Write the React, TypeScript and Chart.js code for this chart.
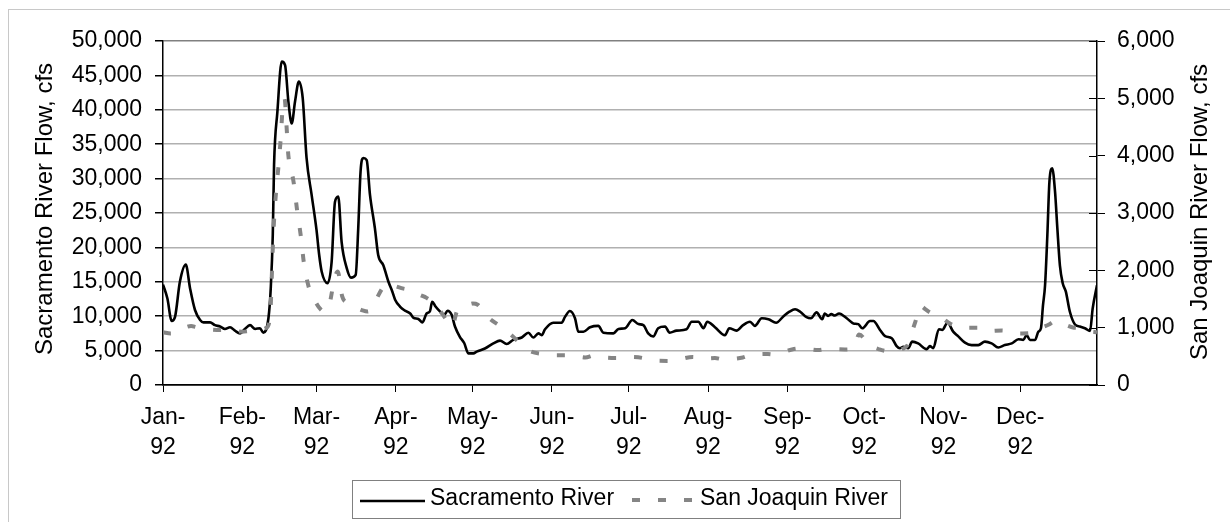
import { useEffect, useRef } from 'react';
import { Chart, registerables } from 'chart.js';

Chart.register(...registerables);

const W = 1230;
const H = 522;
const FONT = '"Liberation Sans", Arial, Helvetica, sans-serif';

// x axis: day of year 1992 (0 = Jan 1)
const monthStartDays = [0, 31, 60, 91, 121, 152, 182, 213, 244, 274, 305, 335];
const monthLabels = ['Jan-', 'Feb-', 'Mar-', 'Apr-', 'May-', 'Jun-', 'Jul-', 'Aug-', 'Sep-', 'Oct-', 'Nov-', 'Dec-'];
const yearLabel = '92';

const leftAxisTitle = 'Sacramento River Flow, cfs';
const rightAxisTitle = 'San Joaquin River Flow, cfs';
const seriesNames = ['Sacramento River', 'San Joaquin River'];

// Sacramento River (left axis, cfs)
const sacDay = [
  0, 1.7, 3.4, 4.7, 6.6, 8.9, 10.6, 12.5, 14.5, 15.8,
  18.4, 20.3, 22.3, 24.2, 26.2, 28.1, 30.1, 32, 34, 36,
  37.9, 39.2, 41.2, 42.1, 42.9, 43.4, 44.7, 46.4, 47.7, 49,
  50.3, 51.6, 53.1, 54.6, 56.1, 58.1, 60, 61, 62, 64.3,
  65.9, 67.2, 68.5, 69.8, 71.8, 73.5, 75.3, 76.3, 77.2, 78.3,
  79.6, 80.9, 82.8, 84.1, 86.1, 88.1, 89.6, 90.7, 92.6, 94.6,
  96.6, 97.8, 99.8, 101.4, 103, 104.3, 105.2, 106.5, 108.2, 109.9,
  111.2, 112.8, 114.1, 116, 117.7, 119.3, 121.3, 122.6, 125.8, 129.1,
  131.7, 134.3, 136.9, 140.2, 142.8, 144.7, 146.7, 148, 149.3, 152.5,
  155.8, 157.1, 159, 161, 162.3, 164.3, 166.9, 170.1, 172.1, 176,
  178, 180.6, 183.4, 185.8, 187.7, 189.6, 191.6, 193.5, 196.2, 198,
  200.7, 204.6, 206.6, 209.2, 211.2, 212.7, 215.7, 219.6, 221.3, 224.1,
  226.7, 229.4, 231.3, 234, 236.6, 239.6, 242.5, 244.8, 247, 249,
  251.5, 253.2, 255.4, 257.6, 258.6, 259.9, 261.2, 262.5, 264.2, 267.2,
  269.8, 271.7, 273.3, 276.3, 277.6, 280.2, 282.2, 284.8, 286.7, 288,
  289.3, 291.2, 292.8, 295.1, 298.4, 299.7, 301, 303.2, 304.5, 306.6,
  308.8, 310.7, 313.4, 316, 318.6, 321.2, 323.8, 326.4, 329, 331.7,
  334.3, 336.2, 337.5, 338.8, 340.8, 342.1, 343.1, 343.9, 344.7, 345.6,
  346.4, 347.5, 348.6, 349.5, 350.5, 351.6, 352.8, 354.4, 356.4, 358.3,
  360.3, 362.3, 363.3, 365,
];
const sacFlow = [
  14600, 12600, 9300, 9900, 15000, 17500, 14000, 10900, 9450, 9100,
  9100, 8700, 8500, 8150, 8400, 7900, 7500, 8150, 8700, 8150,
  8250, 7600, 9700, 14000, 21800, 32000, 39700, 47000, 46500, 41200,
  38000, 41200, 44100, 41700, 33000, 27600, 22500, 19000, 16500, 14800,
  17900, 26600, 27400, 20800, 17000, 15600, 16000, 22800, 31000, 33000,
  32700, 27600, 22800, 18900, 17400, 15000, 13600, 12400, 11400, 10800,
  10400, 9800, 9600, 9100, 10400, 10700, 12100, 11400, 10700, 10200,
  10800, 10200, 8500, 7000, 6100, 4600, 4600, 4850, 5300, 6050,
  6450, 5950, 6550, 6900, 7600, 6900, 7500, 7250, 8100, 9050,
  9050, 9900, 10750, 9700, 7750, 7750, 8400, 8600, 7600, 7500,
  8150, 8250, 9450, 8850, 8700, 7500, 7050, 8250, 8500, 7600,
  7900, 8100, 9200, 9200, 8250, 9200, 8400, 7250, 8250, 7900,
  8700, 9200, 8600, 9700, 9550, 9050, 10000, 10650, 11000, 10650,
  9850, 9700, 10550, 9550, 10400, 10050, 10300, 10100, 10400, 9700,
  8950, 8850, 8250, 9300, 9300, 8000, 7100, 6800, 5650, 5350,
  5550, 5350, 6300, 6050, 5200, 5650, 5350, 8100, 8000, 9050,
  7750, 7100, 6150, 5800, 5800, 6300, 6050, 5450, 5800, 6050,
  6650, 6550, 7250, 6550, 6550, 7750, 8250, 11600, 14500, 21800,
  29500, 31500, 28100, 22800, 17400, 14800, 13600, 10650, 8800, 8500,
  8250, 7850, 11100, 14500,
];

// San Joaquin River (right axis, cfs)
const sjDay = [
  0, 3, 11, 13, 21, 24, 31, 34, 40.5, 42,
  42.6, 43, 43.5, 44.3, 45.2, 46, 46.7, 47.5, 48.3, 49,
  51, 52.4, 54, 55, 57, 59, 61, 63, 65, 67,
  68.3, 70, 72, 75, 78, 80, 82, 84, 86, 88,
  91, 94, 97.5, 100, 103, 106, 109, 111, 113, 115,
  118, 121, 123, 125, 127.4, 131.7, 135.6, 140.3, 143, 148.5,
  152, 158.3, 161.8, 165, 168.8, 170.8, 177.8, 181.3, 187.6, 190.3,
  197.4, 200.9, 207.1, 210.6, 215.7, 218.8, 226.6, 229.4, 236.4, 239.2,
  245.8, 249.7, 256, 260, 266.5, 270, 272, 276, 280, 283,
  286, 289, 291, 292.5, 294, 296, 298, 300, 303, 306,
  308, 311.5, 315, 318.5, 322.5, 328, 332, 336, 339.6, 342.7,
  346, 349, 352, 356, 359, 362, 365,
];
const sjFlow = [
  920, 900, 1030, 1010, 960, 960, 930, 940, 1000, 1300,
  2000, 2500, 2950, 3430, 3850, 4300, 4800, 5000, 4500, 4000,
  3550, 3050, 2550, 2150, 1700, 1500, 1350, 1280, 1400, 1850,
  1980, 1550, 1430, 1360, 1300, 1280, 1350, 1550, 1700, 1760,
  1720, 1680, 1650, 1580, 1520, 1420, 1250, 1120, 1020, 1300,
  1360, 1420, 1400, 1300, 1170, 1030, 890, 700, 600, 540,
  520, 520, 500, 480, 520, 490, 470, 490, 470, 430,
  420, 440, 490, 460, 470, 450, 480, 520, 540, 530,
  620, 640, 610, 630, 620, 650, 880, 700, 620, 590,
  580, 630, 700, 900, 1100, 1380, 1320, 1260, 1230, 1120,
  1060, 1000, 1000, 1000, 940, 950, 900, 900, 910, 990,
  1050, 1120, 1060, 1000, 990, 940, 920,
];

const leftTicks = { min: 0, max: 50000, step: 5000 };
const rightTicks = { min: 0, max: 6000, step: 1000 };

const PLOT = { left: 163, right: 1097, top: 41, bottom: 385 };
const X_AXIS_HEIGHT = 90;

export default function App() {
  const ref = useRef<HTMLCanvasElement>(null);

  useEffect(() => {
    const canvas = ref.current;
    if (!canvas) return;

    const decor = {
      id: 'decor',
      beforeDraw(chart: any) {
        const ctx = chart.ctx;
        ctx.save();
        ctx.fillStyle = '#ffffff';
        ctx.fillRect(0, 0, W, H);
        ctx.strokeStyle = '#c8c8c8';
        ctx.lineWidth = 1;
        ctx.strokeRect(8.5, 9.5, W + 40, H + 40);
        ctx.restore();
      },
      afterDraw(chart: any) {
        const { ctx, chartArea } = chart;
        const y1 = chart.scales.y1;
        ctx.save();
        // inner half of the right-axis cross tick marks
        ctx.strokeStyle = '#000';
        ctx.lineWidth = 1;
        y1.ticks.forEach((t: any) => {
          const py = Math.round(y1.getPixelForValue(t.value)) + 0.5;
          ctx.beginPath();
          ctx.moveTo(chartArea.right - 8, py);
          ctx.lineTo(chartArea.right, py);
          ctx.stroke();
        });

        // axis titles (both read bottom-to-top)
        ctx.fillStyle = '#000';
        ctx.font = `24px ${FONT}`;
        ctx.textAlign = 'center';
        ctx.textBaseline = 'middle';
        ctx.save();
        ctx.translate(45, 209);
        ctx.rotate(-Math.PI / 2);
        ctx.fillText(leftAxisTitle, 0, 0);
        ctx.restore();
        ctx.save();
        ctx.translate(1200, 212);
        ctx.rotate(-Math.PI / 2);
        ctx.fillText(rightAxisTitle, 0, 0);
        ctx.restore();

        // legend
        ctx.strokeStyle = '#808080';
        ctx.lineWidth = 1;
        ctx.strokeRect(352.5, 480.5, 548, 38);
        ctx.strokeStyle = '#000';
        ctx.lineWidth = 2.5;
        ctx.beginPath();
        ctx.moveTo(360, 501);
        ctx.lineTo(425, 501);
        ctx.stroke();
        ctx.strokeStyle = '#858585';
        ctx.lineWidth = 4;
        ctx.setLineDash([8, 18]);
        ctx.beginPath();
        ctx.moveTo(632, 500);
        ctx.lineTo(694, 500);
        ctx.stroke();
        ctx.setLineDash([]);
        ctx.fillStyle = '#000';
        ctx.font = `23px ${FONT}`;
        ctx.textAlign = 'left';
        ctx.textBaseline = 'middle';
        ctx.fillText(seriesNames[0], 430, 499);
        ctx.fillText(seriesNames[1], 700, 499);
        ctx.restore();
      },
    };

    const tickFont = { family: FONT, size: 23, lineHeight: 1.33 };

    const chart = new Chart(canvas, {
      type: 'line',
      data: {
        datasets: [
          {
            label: seriesNames[0],
            data: sacDay.map((d, i) => ({ x: d, y: sacFlow[i] })),
            xAxisID: 'x',
            yAxisID: 'y',
            borderColor: '#000000',
            borderWidth: 2.6,
            pointRadius: 0,
            cubicInterpolationMode: 'monotone',
            fill: false,
            order: 1,
          },
          {
            label: seriesNames[1],
            data: sjDay.map((d, i) => ({ x: d, y: sjFlow[i] })),
            xAxisID: 'x',
            yAxisID: 'y1',
            borderColor: '#858585',
            borderWidth: 4,
            borderDash: [8, 18],
            borderCapStyle: 'butt',
            pointRadius: 0,
            cubicInterpolationMode: 'monotone',
            fill: false,
            order: 0,
          },
        ],
      },
      options: {
        animation: false,
        responsive: false,
        devicePixelRatio: 1,
        events: [],
        layout: {
          padding: { top: PLOT.top, left: 0, right: 0, bottom: H - PLOT.bottom - X_AXIS_HEIGHT },
        },
        plugins: {
          legend: { display: false },
          tooltip: { enabled: false },
          title: { display: false },
        },
        scales: {
          x: {
            type: 'linear',
            position: 'bottom',
            min: 0,
            max: 365,
            afterBuildTicks: (s: any) => {
              s.ticks = monthStartDays.map((v) => ({ value: v }));
            },
            afterFit: (s: any) => {
              s.height = X_AXIS_HEIGHT;
            },
            ticks: {
              autoSkip: false,
              maxRotation: 0,
              minRotation: 0,
              padding: 10,
              color: '#000',
              font: tickFont,
              callback: (v: any) => {
                const i = monthStartDays.indexOf(Number(v));
                return i >= 0 ? [monthLabels[i], yearLabel] : '';
              },
            },
            grid: {
              drawOnChartArea: false,
              drawTicks: true,
              tickLength: 7,
              tickColor: '#000',
              tickWidth: 1,
            },
            border: { display: true, color: '#000', width: 1.5 },
          },
          y: {
            type: 'linear',
            position: 'left',
            min: leftTicks.min,
            max: leftTicks.max,
            afterFit: (s: any) => {
              s.width = PLOT.left;
            },
            ticks: {
              stepSize: leftTicks.step,
              padding: 13,
              color: '#000',
              font: tickFont,
              callback: (v: any) => Number(v).toLocaleString('en-US'),
            },
            grid: {
              drawOnChartArea: true,
              drawTicks: true,
              tickLength: 8,
              tickColor: '#000',
              lineWidth: 1.5,
              color: (c: any) =>
                c.tick && c.tick.value === leftTicks.max
                  ? '#808080'
                  : c.tick && c.tick.value === 0
                  ? '#000000'
                  : '#b0b0b0',
            },
            border: { display: true, color: '#000', width: 1.5 },
          },
          y1: {
            type: 'linear',
            position: 'right',
            min: rightTicks.min,
            max: rightTicks.max,
            afterFit: (s: any) => {
              s.width = W - PLOT.right;
            },
            ticks: {
              stepSize: rightTicks.step,
              padding: 12,
              color: '#000',
              font: tickFont,
              callback: (v: any) => Number(v).toLocaleString('en-US'),
            },
            grid: {
              drawOnChartArea: false,
              drawTicks: true,
              tickLength: 8,
              tickColor: '#000',
              tickWidth: 1,
            },
            border: { display: true, color: '#000', width: 1.5 },
          },
        },
      },
      plugins: [decor],
    } as any);

    return () => chart.destroy();
  }, []);

  return (
    <div style={{ position: 'fixed', left: 0, top: 0, width: W, height: H, overflow: 'hidden', background: '#fff' }}>
      <canvas ref={ref} width={W} height={H} style={{ display: 'block', width: W, height: H }} />
    </div>
  );
}
